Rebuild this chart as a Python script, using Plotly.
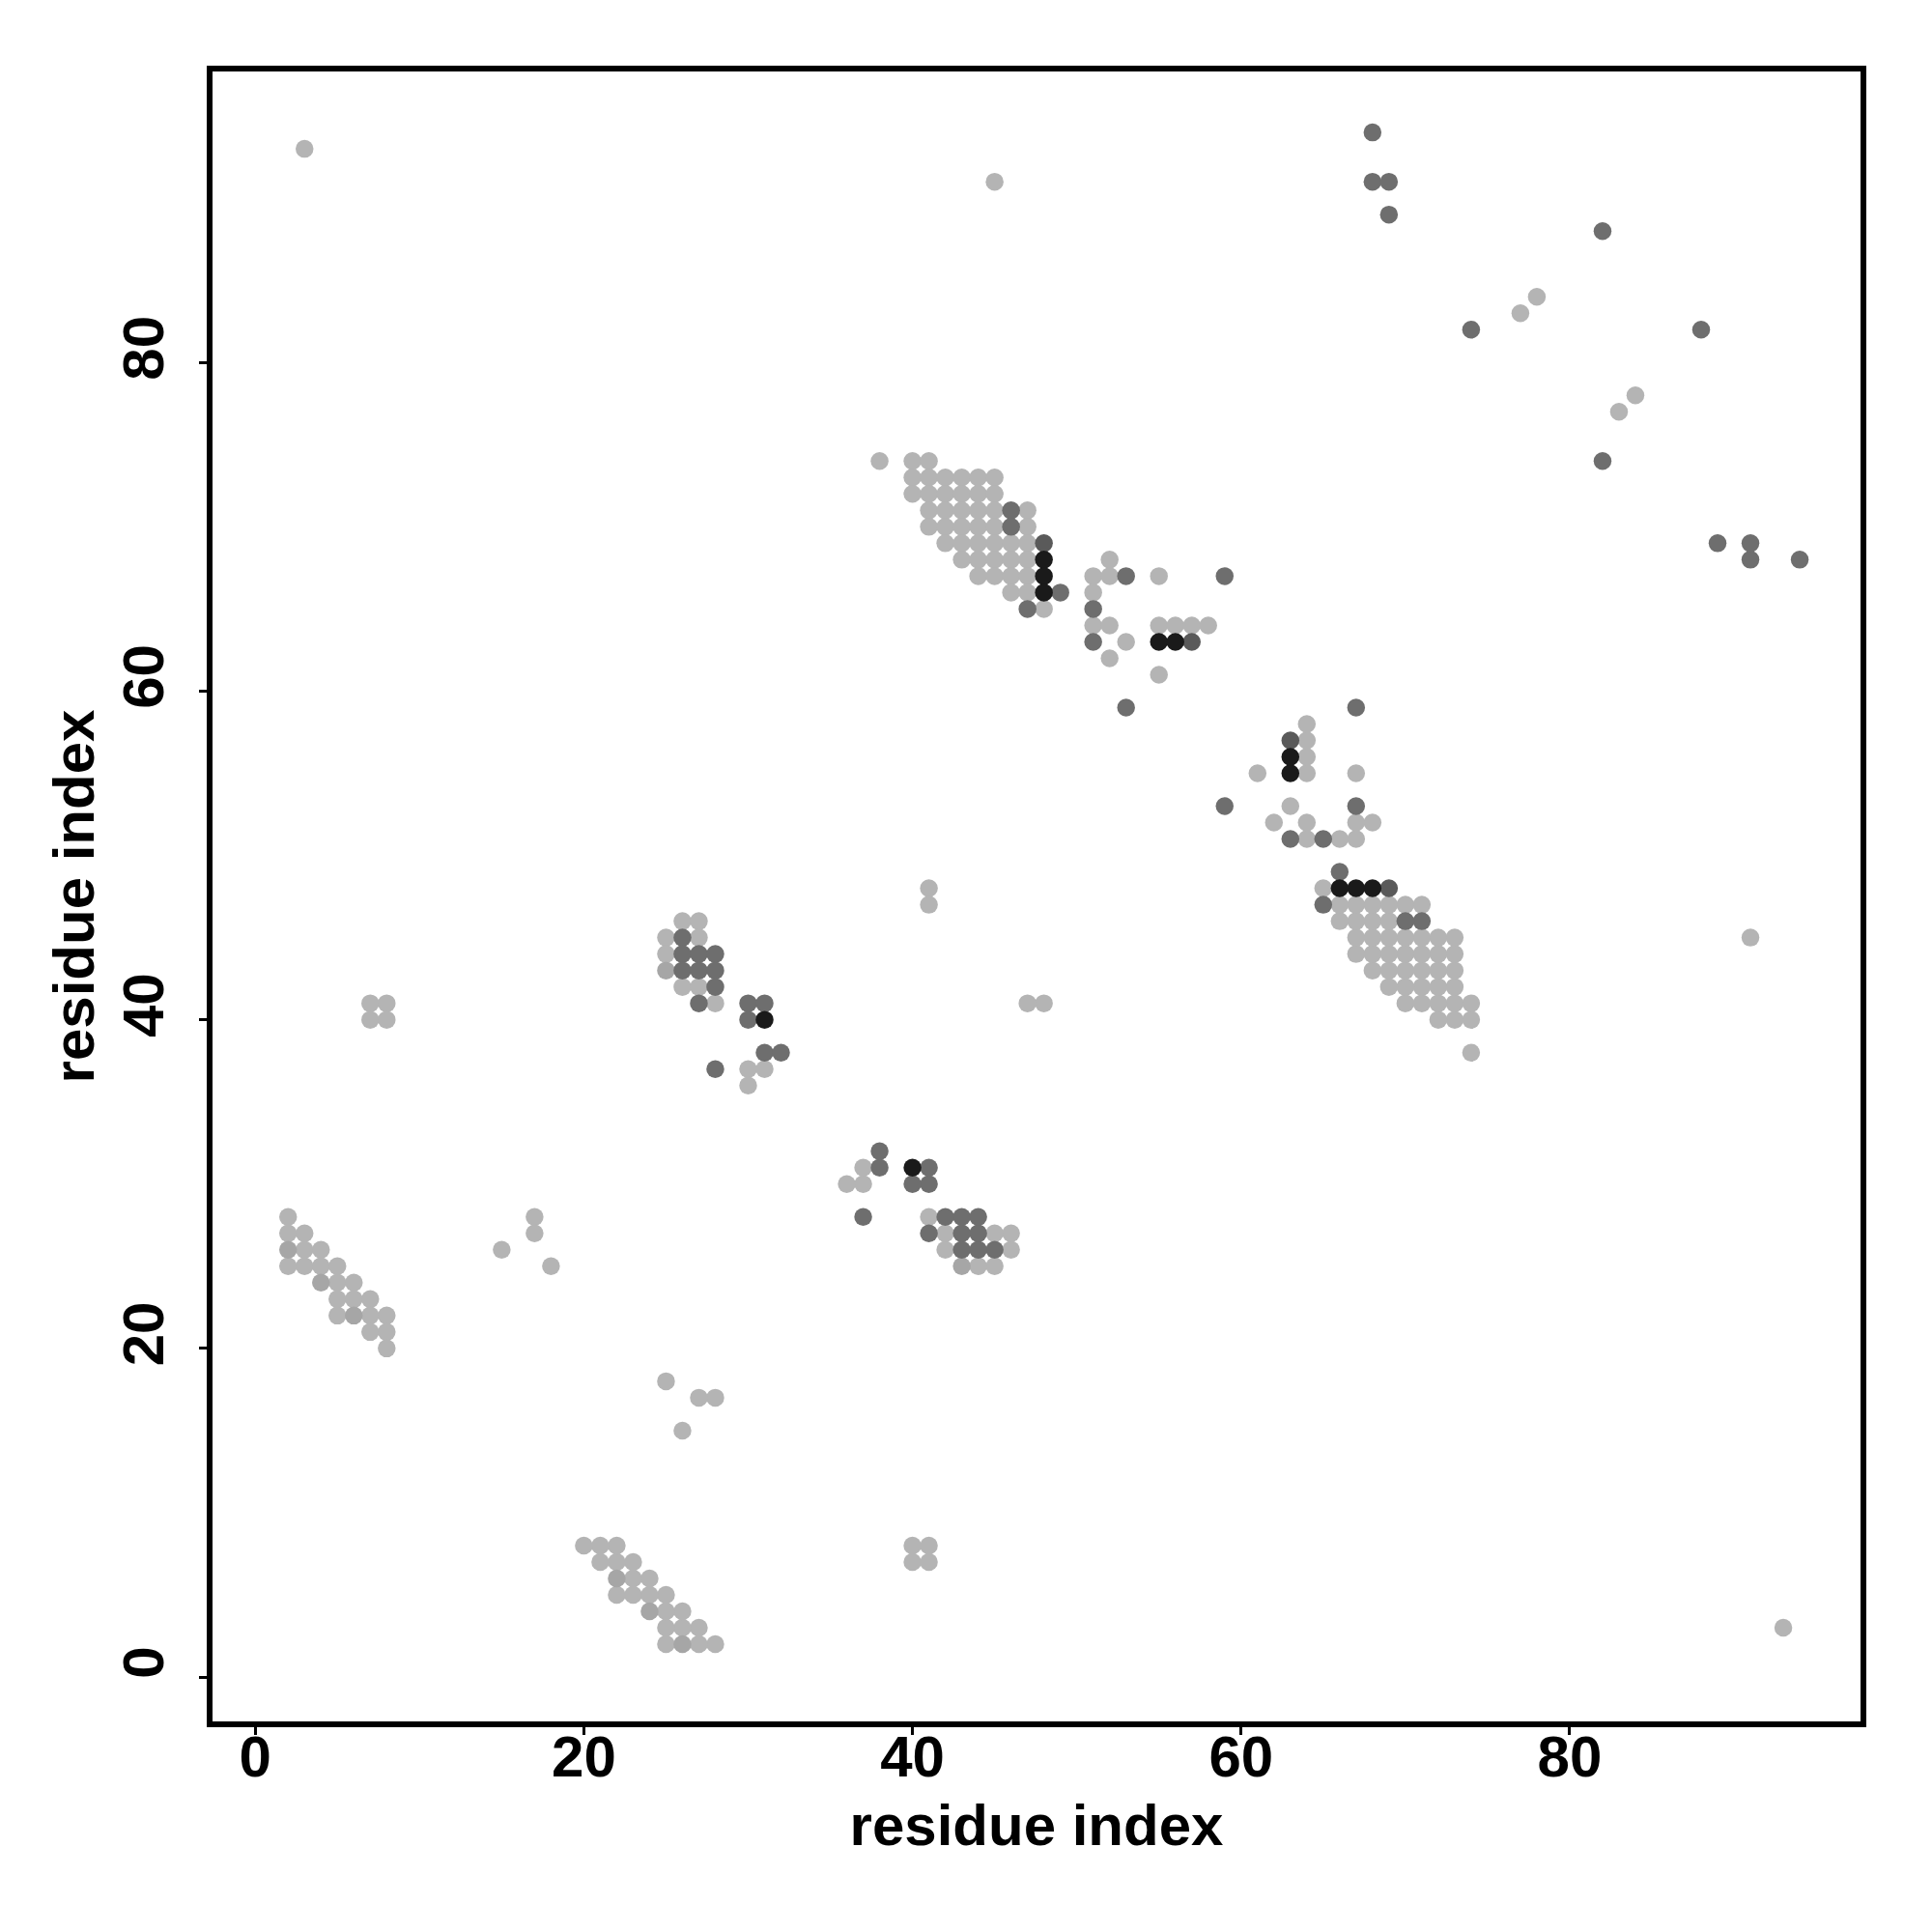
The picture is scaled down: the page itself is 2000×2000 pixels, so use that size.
import plotly.graph_objects as go

# Contact map values (residue i, residue j), grouped by grey level
light = [
    (38, 74), (40, 74), (41, 74),
    (40, 73), (41, 73), (42, 73), (43, 73), (44, 73), (45, 73),
    (40, 72), (41, 72), (42, 72), (43, 72), (44, 72), (45, 72),
    (41, 71), (42, 71), (43, 71), (44, 71), (45, 71), (47, 71),
    (41, 70), (42, 70), (43, 70), (44, 70), (45, 70), (47, 70),
    (42, 69), (43, 69), (44, 69), (45, 69), (46, 69), (47, 69),
    (43, 68), (44, 68), (45, 68), (46, 68), (47, 68),
    (44, 67), (45, 67), (46, 67), (47, 67),
    (46, 66), (47, 66), (48, 65),
    (74, 38), (74, 40), (74, 41),
    (73, 40), (73, 41), (73, 42), (73, 43), (73, 44), (73, 45),
    (72, 40), (72, 41), (72, 42), (72, 43), (72, 44), (72, 45),
    (71, 41), (71, 42), (71, 43), (71, 44), (71, 45), (71, 47),
    (70, 41), (70, 42), (70, 43), (70, 44), (70, 45), (70, 47),
    (69, 42), (69, 43), (69, 44), (69, 45), (69, 46), (69, 47),
    (68, 43), (68, 44), (68, 45), (68, 46), (68, 47),
    (67, 44), (67, 45), (67, 46), (67, 47),
    (66, 46), (66, 47), (65, 48),
    (52, 68), (51, 67), (52, 67), (55, 67), (51, 66), (51, 64), (52, 64),
    (55, 64), (56, 64), (57, 64), (58, 64), (53, 63), (52, 62), (55, 61),
    (68, 52), (67, 51), (67, 52), (67, 55), (66, 51), (64, 51), (64, 52),
    (64, 55), (64, 56), (64, 57), (64, 58), (63, 53), (62, 52), (61, 55),
    (26, 46), (27, 46), (25, 45), (27, 45), (25, 44), (26, 42), (27, 42),
    (28, 41), (30, 37), (31, 37), (30, 36),
    (46, 26), (46, 27), (45, 25), (45, 27), (44, 25), (42, 26), (42, 27),
    (41, 28), (37, 30), (37, 31), (36, 30),
    (2, 28), (2, 27), (3, 27), (3, 26), (4, 26), (2, 25), (3, 25), (4, 25),
    (5, 25), (5, 24), (6, 24), (5, 23), (6, 23), (7, 23), (5, 22), (7, 22),
    (8, 22), (7, 21), (8, 21), (8, 20),
    (28, 2), (27, 2), (27, 3), (26, 3), (26, 4), (25, 2), (25, 3), (25, 4),
    (25, 5), (24, 5), (24, 6), (23, 5), (23, 6), (23, 7), (22, 5), (22, 7),
    (22, 8), (21, 7), (21, 8), (20, 8),
    (3, 93), (93, 3), (45, 91), (91, 45), (77, 83), (83, 77), (78, 84), (84, 78),
    (7, 41), (8, 41), (7, 40), (8, 40), (41, 7), (41, 8), (40, 7), (40, 8),
    (15, 26), (26, 15), (17, 28), (28, 17), (17, 27), (27, 17), (18, 25), (25, 18),
    (41, 48), (48, 41), (41, 47), (47, 41),
]

midlight = [(2, 26), (4, 24), (6, 22), (26, 2), (24, 4), (22, 6), (25, 43), (43, 25)]

dark = [
    (46, 71), (46, 70), (49, 66), (47, 65),
    (71, 46), (70, 46), (66, 49), (65, 47),
    (53, 67), (59, 67), (51, 65), (51, 63), (53, 59),
    (67, 53), (67, 59), (65, 51), (63, 51), (59, 53),
    (26, 45), (26, 44), (27, 44), (28, 44), (26, 43), (27, 43), (28, 43),
    (28, 42), (27, 41), (30, 41), (31, 41), (30, 40), (31, 38), (32, 38), (28, 37),
    (45, 26), (44, 26), (44, 27), (44, 28), (43, 26), (43, 27), (43, 28),
    (42, 28), (41, 27), (41, 30), (41, 31), (40, 30), (38, 31), (38, 32), (37, 28),
    (68, 94), (94, 68), (68, 91), (91, 68), (69, 91), (91, 69), (69, 89), (89, 69),
    (82, 88), (88, 82), (74, 82), (82, 74),
]

darker = [(48, 69), (69, 48), (57, 63), (63, 57)]

black = [(48, 68), (48, 67), (48, 66), (68, 48), (67, 48), (66, 48),
         (55, 63), (56, 63), (63, 55), (63, 56), (31, 40), (40, 31)]

x_ticks = [0, 20, 40, 60, 80]
y_ticks = [0, 20, 40, 60, 80]
axis_title = "residue index"

groups = [
    (light, "#b4b4b4"),
    (midlight, "#a6a6a6"),
    (dark, "#6e6e6e"),
    (darker, "#5a5a5a"),
    (black, "#1a1a1a"),
]

fig = go.Figure()
for pts, col in groups:
    fig.add_trace(go.Scatter(
        x=[p[0] for p in pts], y=[p[1] for p in pts], mode="markers",
        marker=dict(size=18.5, color=col, line=dict(width=0)),
        showlegend=False, hoverinfo="skip"))

font = dict(family="Liberation Sans, Arial, sans-serif", size=60, color="black", weight="bold")

fig.update_layout(
    width=2000, height=2000,
    margin=dict(l=212, r=82, t=66, b=226, autoexpand=False),
    plot_bgcolor="white", paper_bgcolor="white", font=font,
)
common = dict(ticks="outside", ticklen=8, tickwidth=2.5, tickcolor="black",
              showline=True, linewidth=5.5, linecolor="black", mirror=True,
              showgrid=False, zeroline=False, tickfont=font, automargin=False)
fig.update_xaxes(range=[-2.6, 97.7], tickvals=x_ticks, ticktext=[str(v) for v in x_ticks],
                 ticklabelstandoff=-29,
                 title=dict(text=axis_title, font=font, standoff=19), **common)
fig.update_yaxes(range=[-2.7, 97.71], tickvals=y_ticks, ticktext=[str(v) for v in y_ticks],
                 tickangle=-90, ticklabelstandoff=13, ticklabelshift=-6,
                 title=dict(text=axis_title, font=font, standoff=0), **common)

fig.write_html("out.html")
